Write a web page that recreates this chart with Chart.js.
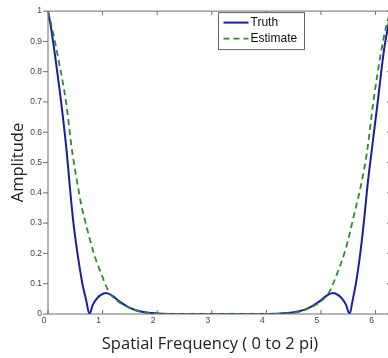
<!DOCTYPE html>
<html>
<head>
<meta charset="utf-8">
<script src="https://cdn.jsdelivr.net/npm/chart.js@4.4.0/dist/chart.umd.min.js"></script>
<style>
  html, body { margin: 0; padding: 0; background: #fff; overflow: hidden; }
  #wrap { width: 392px; height: 358px; }
</style>
</head>
<body>
<div id="wrap"><canvas id="ampChart" width="392" height="358"></canvas></div>
<script>
// values
const seriesNames = ['Truth', 'Estimate'];

const truthX = [0, 0.06, 0.12, 0.24, 0.34, 0.40, 0.46, 0.54, 0.63, 0.70, 0.76, 0.82, 0.89, 0.97, 1.06, 1.18, 1.32, 1.50, 1.70, 1.90, 2.10, 2.40, 3.14,
  3.90, 4.18, 4.38, 4.58, 4.78, 4.96, 5.10, 5.22, 5.31, 5.39, 5.46, 5.524, 5.58, 5.64, 5.72, 5.79, 5.85, 5.93, 6.04, 6.15, 6.22, 6.283];
const truthY = [1, 0.94, 0.865, 0.70, 0.54, 0.42, 0.31, 0.20, 0.10, 0.045, 0, 0.03, 0.05, 0.063, 0.069, 0.06, 0.04, 0.02, 0.008, 0.003, 0.001, 0, 0,
  0, 0.001, 0.003, 0.008, 0.02, 0.04, 0.06, 0.069, 0.063, 0.05, 0.03, 0, 0.045, 0.10, 0.20, 0.31, 0.42, 0.54, 0.70, 0.865, 0.94, 1];

const estX = [0, 0.08, 0.17, 0.33, 0.44, 0.53, 0.61, 0.69, 0.84, 0.97, 1.12, 1.28, 1.45, 1.69, 1.91, 2.20, 3.14,
  4.10, 4.38, 4.60, 4.68, 4.84, 5.00, 5.15, 5.30, 5.445, 5.597, 5.75, 5.84, 5.96, 6.10, 6.21, 6.283];
const estY = [1, 0.94, 0.86, 0.70, 0.54, 0.44, 0.36, 0.30, 0.20, 0.135, 0.072, 0.042, 0.024, 0.007, 0.002, 0, 0,
  0, 0.002, 0.007, 0.012, 0.024, 0.042, 0.072, 0.135, 0.21, 0.32, 0.44, 0.53, 0.70, 0.864, 0.96, 1];

const xTicks = [0, 1, 2, 3, 4, 5, 6];
const yTicks = [0, 0.1, 0.2, 0.3, 0.4, 0.5, 0.6, 0.7, 0.8, 0.9, 1];

const xTitle = 'Spatial Frequency ( 0 to 2 pi)';
const yTitle = 'Amplitude';

function toPoints(xs, ys) {
  return xs.map((x, i) => ({ x: x, y: ys[i] }));
}

// box, tick marks, legend and x label drawn the matlab way
const matlabBox = {
  id: 'matlabBox',
  afterDraw(chart) {
    const ctx = chart.ctx;
    const a = chart.chartArea;
    const sx = chart.scales.x, sy = chart.scales.y;
    ctx.save();
    ctx.strokeStyle = '#6e6e6e';
    ctx.lineWidth = 1;
    ctx.strokeRect(a.left, a.top, a.right - a.left, a.bottom - a.top);
    ctx.beginPath();
    xTicks.forEach(v => {
      const px = sx.getPixelForValue(v);
      ctx.moveTo(px, a.bottom); ctx.lineTo(px, a.bottom - 4);
      ctx.moveTo(px, a.top); ctx.lineTo(px, a.top + 4);
    });
    yTicks.forEach(v => {
      const py = sy.getPixelForValue(v);
      ctx.moveTo(a.left - 5, py); ctx.lineTo(a.left, py);
      ctx.moveTo(a.right, py); ctx.lineTo(a.right - 4, py);
    });
    ctx.stroke();

    // legend
    const lx = a.left + 170.5, ly = a.top + 1.5;
    ctx.fillStyle = '#fff';
    ctx.fillRect(lx, ly, 86, 37);
    ctx.strokeStyle = '#666';
    ctx.strokeRect(lx, ly, 86, 37);
    ctx.font = '12px "Liberation Sans", Arial, sans-serif';
    ctx.textBaseline = 'middle';
    ctx.textAlign = 'left';
    chart.data.datasets.forEach((ds, i) => {
      const ry = ly + 10 + i * 16;
      ctx.strokeStyle = ds.borderColor;
      ctx.lineWidth = ds.borderWidth;
      ctx.setLineDash(ds.borderDash || []);
      ctx.beginPath();
      ctx.moveTo(lx + 5, ry);
      ctx.lineTo(lx + 30, ry);
      ctx.stroke();
      ctx.setLineDash([]);
      ctx.fillStyle = '#111';
      ctx.fillText(ds.label, lx + 32, ry);
    });

    // x axis label
    ctx.font = '16.5px "Open Sans", sans-serif';
    ctx.fillStyle = '#222';
    ctx.textAlign = 'center';
    ctx.textBaseline = 'alphabetic';
    ctx.fillText(xTitle, a.left + 162, a.bottom + 34.5);
    ctx.restore();
  }
};

const tickFont = { family: '"Liberation Sans", Arial, sans-serif', size: 8.5 };

new Chart(document.getElementById('ampChart').getContext('2d'), {
  type: 'line',
  data: {
    datasets: [{
      label: seriesNames[0],
      data: toPoints(truthX, truthY),
      borderColor: '#1c1ca8',
      borderWidth: 2,
      pointRadius: 0,
      cubicInterpolationMode: 'monotone',
      fill: false,
      order: 1
    }, {
      label: seriesNames[1],
      data: toPoints(estX, estY),
      borderColor: '#2f8a2f',
      borderWidth: 1.8,
      borderDash: [6, 4],
      pointRadius: 0,
      cubicInterpolationMode: 'monotone',
      fill: false,
      order: 0
    }]
  },
  options: {
    responsive: false,
    animation: false,
    layout: { padding: { top: 8, right: 1, bottom: 0, left: 0 } },
    plugins: {
      legend: { display: false },
      tooltip: { enabled: false }
    },
    scales: {
      x: {
        type: 'linear',
        min: 0,
        max: 2 * Math.PI,
        afterFit: s => { s.height = 44; },
        grid: { display: false, drawTicks: false },
        border: { display: false },
        ticks: {
          stepSize: 1,
          includeBounds: false,
          labelOffset: -4,
          padding: 2,
          color: '#444',
          font: tickFont,
          maxRotation: 0
        }
      },
      y: {
        min: 0,
        max: 1,
        afterFit: s => { s.width = 48; },
        grid: { display: false, drawTicks: false },
        border: { display: false },
        ticks: {
          stepSize: 0.1,
          padding: 6,
          color: '#444',
          font: tickFont,
          callback: v => String(Math.round(v * 10) / 10)
        },
        title: {
          display: true,
          text: yTitle,
          color: '#222',
          font: { family: '"Open Sans", sans-serif', size: 16.5 },
          padding: { top: 8, bottom: 0 }
        }
      }
    }
  },
  plugins: [matlabBox]
});
</script>
</body>
</html>
